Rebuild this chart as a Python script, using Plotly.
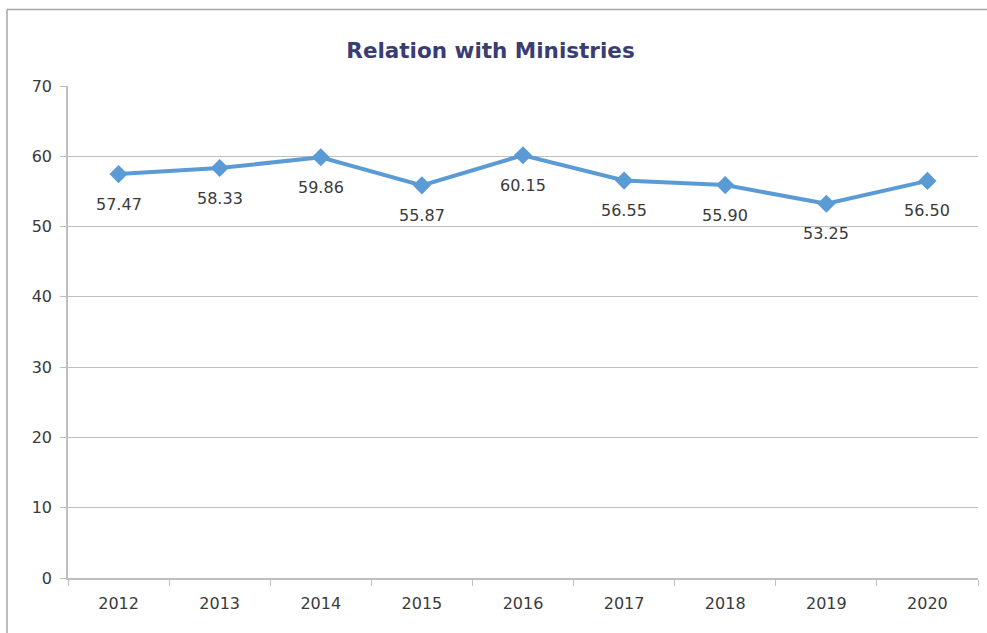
import plotly.graph_objects as go

years = ["2012", "2013", "2014", "2015", "2016", "2017", "2018", "2019", "2020"]
values = [57.47, 58.33, 59.86, 55.87, 60.15, 56.55, 55.90, 53.25, 56.50]
y_ticks = [0, 10, 20, 30, 40, 50, 60, 70]
title_text = "Relation with Ministries"

W, H = 987, 633
L, R, T, B = 68, 9, 86, 55
FONT = "'DejaVu Sans', sans-serif"

fig = go.Figure()
fig.add_trace(go.Scatter(
    x=years, y=values, mode="lines+markers",
    line=dict(color="#5b9bd5", width=4),
    marker=dict(symbol="diamond", size=14, color="#5b9bd5"),
    hoverinfo="x+y", showlegend=False,
))

for i, v in enumerate(values):
    fig.add_annotation(
        x=i, y=v, xref="x", yref="y", text=f"{v:.2f}", showarrow=False, yshift=-30,
        font=dict(family=FONT, size=16, color="#3a3a3a"),
    )

pw = W - L - R
ph = H - T - B
x0 = (7 - L) / pw
y1 = 1 + (T - 9.5) / ph
fig.add_shape(type="line", xref="paper", yref="paper", x0=x0, x1=x0, y0=-0.5, y1=y1,
              line=dict(color="#a6a6a6", width=1.5))
fig.add_shape(type="line", xref="paper", yref="paper", x0=x0, x1=1.5, y0=y1, y1=y1,
              line=dict(color="#a6a6a6", width=1.5))

fig.update_layout(
    width=W, height=H,
    margin=dict(l=L, r=R, t=T, b=B),
    paper_bgcolor="white", plot_bgcolor="white",
    title=dict(text=title_text, x=0.497, xref="container", xanchor="center",
               y=1 - 50 / H, yref="container", yanchor="middle",
               font=dict(family=FONT, size=21.5, color="#3a3d72", weight="bold")),
    xaxis=dict(
        type="category", showgrid=False, showline=True, linecolor="#bfbfbf", linewidth=1.5,
        ticks="outside", tickson="boundaries", ticklen=6, tickcolor="#bfbfbf",
        ticklabelstandoff=10,
        tickfont=dict(family=FONT, size=16, color="#3a3a3a"),
        range=[-0.5, len(years) - 0.5], fixedrange=True,
    ),
    yaxis=dict(
        range=[0, 70], tickvals=y_ticks, showgrid=True, gridcolor="#bfbfbf", gridwidth=1,
        showline=True, linecolor="#bfbfbf", linewidth=1.5, zeroline=False,
        ticks="outside", ticklen=6, tickcolor="#bfbfbf",
        ticklabelstandoff=5,
        tickfont=dict(family=FONT, size=16, color="#3a3a3a"),
        fixedrange=True,
    ),
)

fig.write_html("out.html", config={"displayModeBar": False},
               post_script="document.body.style.margin='0';document.body.style.overflow='hidden';")
